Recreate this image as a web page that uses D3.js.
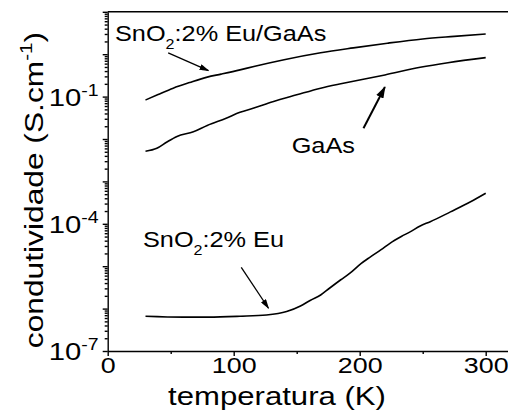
<!DOCTYPE html>
<html>
<head>
<meta charset="utf-8">
<script src="https://cdn.jsdelivr.net/npm/d3@7"></script>
<style>
  body { margin: 0; background: #fff; }
  text { font-family: Arial, "Liberation Sans", sans-serif; fill: #000; }
</style>
</head>
<body>
<div id="chart"></div>
<script>
// conductivity (S/cm) vs temperature (K), log scale

// SnO2:2% Eu / GaAs
const tEuGaAs = [30, 40, 52, 65, 79, 90, 105, 116, 140, 169, 195, 222, 250, 275, 300];
const sEuGaAs = [0.0832, 0.112, 0.158, 0.214, 0.288, 0.339, 0.427, 0.513, 0.741, 1.08, 1.41, 1.82, 2.29, 2.63, 2.99];

// GaAs substrate
const tGaAs = [30, 39, 47, 55, 68, 79, 94, 105, 116, 131, 150, 169, 187, 220, 248, 270, 300];
const sGaAs = [0.00513, 0.00603, 0.00851, 0.0115, 0.0148, 0.0209, 0.0309, 0.0427, 0.0537, 0.0759, 0.110, 0.158, 0.206, 0.324, 0.490, 0.631, 0.832];

// SnO2:2% Eu film
const tEu = [30, 60, 80, 105, 126, 142, 153, 161, 169, 176, 185, 192, 201, 208, 217, 224, 233, 240, 248, 256, 272, 288, 300];
const sEu = [6.61e-7, 6.31e-7, 6.31e-7, 6.61e-7, 7.08e-7, 8.51e-7, 1.15e-6, 1.58e-6, 2.09e-6, 3.02e-6, 4.79e-6, 6.76e-6, 1.15e-5, 1.62e-5, 2.45e-5, 3.47e-5, 5.01e-5, 6.46e-5, 8.91e-5, 1.12e-4, 1.91e-4, 3.31e-4, 5.25e-4];

// ticks
const xTicks = [0, 100, 200, 300];
const xMinorTicks = [50, 150, 250];
const yLabelTicks = [1e-7, 1e-4, 1e-1];

// annotations: [T, sigma]
const arrowFrom = [[48, 1.08], [203, 0.0179], [106, 9.4e-6]];
const arrowTo = [[80, 0.41], [220, 0.168], [127.6, 1.02e-6]];
const noteAt = [[5.8, 2.05], [146, 4.75e-3], [28, 2.84e-5]];
const noteText = [["SnO", "2", ":2% Eu/GaAs"], ["GaAs"], ["SnO", "2", ":2% Eu"]];

const width = 508, height = 416;
const S = 1.22; // the original font is drawn wide

const x = d3.scaleLinear().domain([0, 320]).range([107.7, 510.9]);
const y = d3.scaleLog().domain([1e-7, 1e1]).range([351, 11.8]);

const svg = d3.select("#chart").append("svg")
  .attr("width", width)
  .attr("height", height);

const defs = svg.append("defs");
defs.append("marker").attr("id", "headBig")
  .attr("markerUnits", "userSpaceOnUse")
  .attr("viewBox", "0 0 12 8").attr("refX", 11).attr("refY", 4)
  .attr("markerWidth", 12).attr("markerHeight", 8).attr("orient", "auto")
  .append("path").attr("d", "M0,0 L12,4 L0,8 Z").attr("fill", "#000");
defs.append("marker").attr("id", "headSmall")
  .attr("markerUnits", "userSpaceOnUse")
  .attr("viewBox", "0 0 10 6").attr("refX", 9).attr("refY", 3)
  .attr("markerWidth", 10).attr("markerHeight", 6).attr("orient", "auto")
  .append("path").attr("d", "M0,0 L10,3 L0,6 Z").attr("fill", "#000");

// y axis: decades + minor ticks
const decades = d3.range(-7, 2).map(e => Math.pow(10, e));
const yMinor = [];
d3.range(-7, 1).forEach(e => d3.range(2, 10).forEach(k => yMinor.push(k * Math.pow(10, e))));

svg.append("g")
  .attr("transform", `translate(${x(0)},0)`)
  .call(d3.axisLeft(y).tickValues(yMinor).tickSize(3).tickSizeOuter(0).tickFormat(""))
  .call(g => g.select(".domain").remove());

const yAxis = svg.append("g")
  .attr("transform", `translate(${x(0)},0)`)
  .call(d3.axisLeft(y).tickValues(decades).tickSize(5).tickSizeOuter(0).tickFormat(""));

yAxis.selectAll(".tick")
  .filter(d => yLabelTicks.some(v => Math.abs(Math.log10(v) - Math.log10(d)) < 1e-6))
  .append("text")
  .attr("transform", `scale(${S},1)`)
  .attr("x", -9 / S)
  .attr("dy", "0.36em")
  .attr("text-anchor", "end")
  .attr("font-size", 24)
  .each(function (d) {
    const t = d3.select(this);
    t.append("tspan").text("10");
    t.append("tspan").attr("dy", -10).attr("font-size", 16).text(Math.round(Math.log10(d)));
  });

// x axis
svg.append("g")
  .attr("transform", `translate(0,${y(1e-7)})`)
  .call(d3.axisBottom(x).tickValues(xMinorTicks).tickSize(3).tickSizeOuter(0).tickFormat(""))
  .call(g => g.select(".domain").remove());

const xAxis = svg.append("g")
  .attr("transform", `translate(0,${y(1e-7)})`)
  .call(d3.axisBottom(x).tickValues(xTicks).tickSize(5).tickSizeOuter(0));

xAxis.selectAll(".tick text")
  .attr("transform", `scale(${S},1)`)
  .attr("y", 6)
  .attr("font-size", 22);

svg.selectAll(".domain, .tick line")
  .attr("stroke", "#000")
  .attr("stroke-width", 1.4);
svg.selectAll(".tick text").attr("fill", "#000");

// top frame line
svg.append("line")
  .attr("x1", x(0)).attr("x2", x(320))
  .attr("y1", y(1e1)).attr("y2", y(1e1))
  .attr("stroke", "#000").attr("stroke-width", 1.4);

// axis titles
svg.append("g")
  .attr("transform", `translate(277,405) scale(${S},1)`)
  .append("text")
  .attr("text-anchor", "middle")
  .attr("font-size", 25.5)
  .text("temperatura (K)");

const yt = svg.append("g")
  .attr("transform", `translate(43,190) rotate(-90) scale(${S},1)`)
  .append("text")
  .attr("text-anchor", "middle")
  .attr("font-size", 26);
yt.append("tspan").text("condutividade (S.cm");
yt.append("tspan").attr("dy", -11).attr("font-size", 17).text("-1");
yt.append("tspan").attr("dy", 11).text(")");

// curves
const line = d3.line()
  .x(d => x(d[0]))
  .y(d => y(d[1]))
  .curve(d3.curveMonotoneX);

[[tEuGaAs, sEuGaAs], [tGaAs, sGaAs], [tEu, sEu]].forEach(([ts, ss]) => {
  svg.append("path")
    .datum(ts.map((t, i) => [t, ss[i]]))
    .attr("fill", "none")
    .attr("stroke", "#000")
    .attr("stroke-width", 1.6)
    .attr("d", line);
});

// arrows
svg.append("g").selectAll("line")
  .data(arrowFrom)
  .join("line")
  .attr("x1", d => x(d[0])).attr("y1", d => y(d[1]))
  .attr("x2", (d, i) => x(arrowTo[i][0])).attr("y2", (d, i) => y(arrowTo[i][1]))
  .attr("stroke", "#000")
  .attr("stroke-width", (d, i) => i == 1 ? 2 : 1.3)
  .attr("marker-end", (d, i) => i == 1 ? "url(#headBig)" : "url(#headSmall)");

// annotation labels
noteAt.forEach((p, i) => {
  const t = svg.append("g")
    .attr("transform", `translate(${x(p[0])},${y(p[1])}) scale(${S - 0.07},1)`)
    .append("text")
    .attr("font-size", 22);
  const parts = noteText[i];
  t.append("tspan").text(parts[0]);
  if (parts.length > 1) {
    t.append("tspan").attr("dy", 8).attr("font-size", 14).text(parts[1]);
    t.append("tspan").attr("dy", -8).text(parts[2]);
  }
});
</script>
</body>
</html>
